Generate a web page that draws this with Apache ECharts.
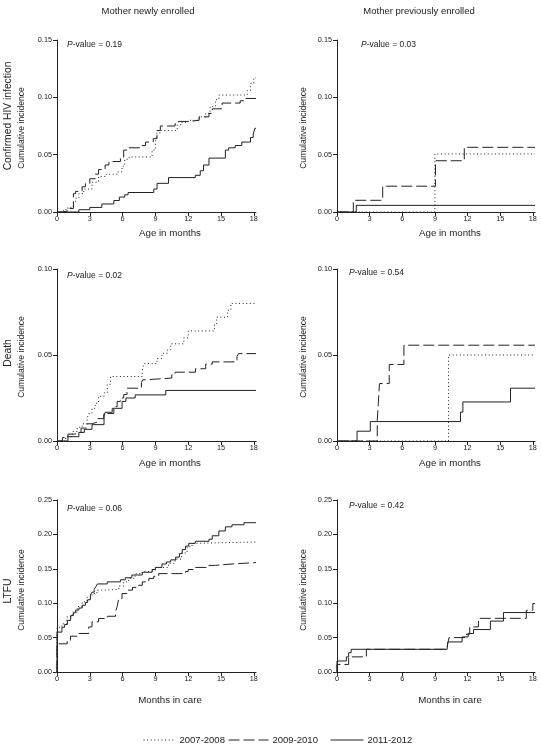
<!DOCTYPE html>
<html><head><meta charset="utf-8">
<script src="https://cdn.jsdelivr.net/npm/echarts@6/dist/echarts.min.js"></script>
<style>html,body{margin:0;padding:0;background:#fff}#c{width:541px;height:750px}</style>
</head><body><div id="c"></div>
<script>
// ---------- DATA ----------
const cohorts = ['2007-2008', '2009-2010', '2011-2012'];
const columnTitles = ['Mother newly enrolled', 'Mother previously enrolled'];
const rowTitles = ['Confirmed HIV infection', 'Death', 'LTFU'];
const xAxisNames = ['Age in months', 'Age in months', 'Months in care'];
const yAxisName = 'Cumulative incidence';
const xTicks = [0, 3, 6, 9, 12, 15, 18];
const yMaxByRow = [0.15, 0.10, 0.25];
const pValues = ['0.19', '0.03', '0.02', '0.54', '0.06', '0.42'];

// [time (months), cumulative incidence]
const hivNew0708 = [[0,0],[0.6,0.002],[1.0,0.004],[1.5,0.008],[1.7,0.012],[2.0,0.016],[2.45,0.020],[3.2,0.026],[3.8,0.031],[4.5,0.033],[5.5,0.035],[5.95,0.040],[6.2,0.046],[6.6,0.048],[8.7,0.054],[9.0,0.061],[9.15,0.069],[9.5,0.071],[11.0,0.076],[11.4,0.078],[12.0,0.080],[13.0,0.083],[13.6,0.086],[14.0,0.092],[14.5,0.098],[14.8,0.102],[17.4,0.106],[17.7,0.112],[18.0,0.117],[18.2,0.117]];
const hivNew0910 = [[0,0],[0.5,0.001],[1.0,0.003],[1.5,0.016],[1.7,0.018],[2.3,0.022],[2.6,0.025],[3.0,0.029],[3.5,0.033],[3.8,0.037],[4.4,0.041],[4.75,0.044],[5.8,0.048],[6.1,0.054],[6.4,0.056],[7.8,0.058],[8.1,0.061],[8.8,0.064],[9.15,0.071],[9.45,0.075],[10.8,0.077],[11.1,0.079],[12.05,0.080],[13.0,0.083],[13.9,0.086],[14.2,0.090],[15.1,0.095],[16.75,0.097],[17.1,0.099],[18.2,0.099]];
const hivNew1112 = [[0,0],[2.0,0.002],[3.0,0.004],[4.1,0.007],[5.2,0.010],[5.7,0.013],[6.2,0.015],[6.5,0.017],[8.85,0.020],[9.15,0.025],[10.2,0.030],[12.65,0.032],[13.1,0.036],[13.4,0.041],[13.9,0.047],[15.4,0.054],[15.7,0.056],[16.3,0.058],[16.9,0.061],[17.7,0.065],[17.95,0.068],[18.1,0.073],[18.2,0.073]];

const hivPrev0708 = [[0,0],[9.0,0.0506],[18.2,0.0506]];
const hivPrev0910 = [[0,0],[1.5,0.0102],[4.2,0.0225],[9.05,0.0447],[11.7,0.0564],[18.2,0.0564]];
const hivPrev1112 = [[0,0],[1.77,0.0058],[18.2,0.0058]];

const deathNew0708 = [[0,0],[0.8,0.0025],[1.4,0.0055],[1.85,0.008],[2.3,0.010],[2.75,0.013],[2.9,0.016],[3.2,0.019],[3.5,0.022],[3.8,0.026],[4.3,0.028],[4.6,0.033],[4.9,0.0375],[7.8,0.041],[7.95,0.045],[9.15,0.048],[9.6,0.051],[10.1,0.053],[10.4,0.0565],[11.6,0.060],[12.0,0.064],[14.4,0.068],[14.6,0.072],[15.6,0.076],[15.9,0.080],[18.2,0.080]];
const deathNew0910 = [[0,0],[0.5,0.002],[1.0,0.004],[1.6,0.005],[2.2,0.0075],[2.75,0.010],[3.2,0.011],[3.67,0.013],[4.28,0.016],[5.2,0.020],[5.5,0.023],[5.8,0.025],[6.1,0.027],[6.4,0.0307],[7.72,0.034],[7.84,0.0356],[8.1,0.0366],[10.5,0.0385],[10.8,0.040],[12.66,0.042],[13.6,0.0447],[14.2,0.046],[16.46,0.049],[16.6,0.0508],[18.2,0.0508]];
const deathNew1112 = [[0,0],[1.0,0.0025],[2.0,0.005],[2.5,0.0068],[3.2,0.0095],[4.3,0.0145],[4.4,0.0167],[5.05,0.019],[5.95,0.023],[6.3,0.025],[7.15,0.0268],[9.95,0.0294],[18.2,0.0294]];

const deathPrev0708 = [[0,0],[10.25,0.050],[18.2,0.050]];
const deathPrev0910 = [[0,0],[3.7,0.012],[3.8,0.022],[3.9,0.0334],[4.8,0.0445],[6.15,0.0557],[18.2,0.0557]];
const deathPrev1112 = [[0,0],[1.84,0.0057],[3.06,0.0113],[11.35,0.0168],[11.57,0.0227],[15.95,0.0307],[18.2,0.0307]];

const ltfuNew0708 = [[0,0],[0,0.065],[0.45,0.070],[0.9,0.080],[1.4,0.087],[1.85,0.095],[2.3,0.102],[2.75,0.109],[3.2,0.114],[3.65,0.119],[4.1,0.120],[5.65,0.125],[6.1,0.131],[6.55,0.136],[7.15,0.143],[7.8,0.146],[8.55,0.148],[9.0,0.152],[10.2,0.158],[10.8,0.164],[11.4,0.173],[11.9,0.182],[12.35,0.187],[12.65,0.189],[18.2,0.189]];
const ltfuNew0910 = [[0,0],[0,0.041],[0.93,0.045],[1.23,0.052],[2.0,0.056],[2.9,0.0655],[3.2,0.073],[3.8,0.0777],[4.6,0.081],[5.35,0.087],[5.5,0.095],[5.65,0.107],[5.95,0.114],[6.4,0.119],[6.9,0.123],[7.3,0.126],[7.8,0.131],[8.4,0.136],[8.85,0.139],[9.3,0.143],[11.75,0.146],[12.0,0.149],[12.65,0.152],[13.9,0.155],[14.5,0.157],[16.0,0.159],[18.2,0.159]];
const ltfuNew1112 = [[0,0],[0,0.058],[0.45,0.065],[0.7,0.069],[0.95,0.075],[1.25,0.082],[1.5,0.086],[1.7,0.090],[2.0,0.093],[2.3,0.097],[2.6,0.101],[2.8,0.105],[3.05,0.112],[3.2,0.116],[3.4,0.120],[3.55,0.124],[3.7,0.128],[4.6,0.131],[5.8,0.134],[6.25,0.137],[6.85,0.141],[7.8,0.145],[8.7,0.149],[9.0,0.152],[9.6,0.157],[10.0,0.160],[10.4,0.163],[10.85,0.167],[11.2,0.172],[11.45,0.178],[11.75,0.183],[12.05,0.187],[12.65,0.190],[13.9,0.193],[14.2,0.198],[14.8,0.205],[15.4,0.211],[16.0,0.214],[17.1,0.217],[18.2,0.217]];

// no visible 2007-2008 curve in this panel
const ltfuPrev0708 = null;
const ltfuPrev0910 = [[0,0],[0,0.011],[1.07,0.022],[2.7,0.033],[10.15,0.040],[10.3,0.050],[11.9,0.055],[12.2,0.0655],[13.0,0.078],[17.4,0.0898],[18.0,0.0995],[18.2,0.0995]];
const ltfuPrev1112 = [[0,0],[0,0.016],[0.86,0.022],[1.07,0.028],[1.3,0.033],[10.13,0.036],[10.2,0.0437],[11.5,0.051],[12.06,0.056],[12.55,0.0617],[14.1,0.074],[15.3,0.0864],[18.2,0.0864]];

const panelSeries = [
  [hivNew0708, hivNew0910, hivNew1112],
  [hivPrev0708, hivPrev0910, hivPrev1112],
  [deathNew0708, deathNew0910, deathNew1112],
  [deathPrev0708, deathPrev0910, deathPrev1112],
  [ltfuNew0708, ltfuNew0910, ltfuNew1112],
  [ltfuPrev0708, ltfuPrev0910, ltfuPrev1112]
];

// ---------- LAYOUT / STYLE ----------
const FONT = '"Liberation Sans", Arial, Helvetica, sans-serif';
const INK = '#222';
const colLeft = [57, 337], colWidth = [199, 198];
const rowTop = [40, 269, 500], rowH = 172;
const lineTypes = [[1, 2.6], [11, 4], 'solid'];

const grids = [], xAxes = [], yAxes = [], series = [];
for (let p = 0; p < 6; p++) {
  const r = Math.floor(p / 2), c = p % 2;
  grids.push({left: colLeft[c], top: rowTop[r], width: colWidth[c], height: rowH, containLabel: false});
  xAxes.push({
    type: 'value', gridIndex: p, min: 0, max: 18.2,
    axisLine: {show: true, onZero: false, lineStyle: {color: INK, width: 1}},
    axisTick: {show: true, length: 4, customValues: xTicks, lineStyle: {color: INK}},
    axisLabel: {customValues: xTicks, margin: 3, fontSize: 7.3, color: INK, fontFamily: FONT},
    splitLine: {show: false}
  });
  yAxes.push({
    type: 'value', gridIndex: p, min: 0, max: yMaxByRow[r], interval: 0.05,
    axisLine: {show: true, lineStyle: {color: INK, width: 1}},
    axisTick: {show: true, length: 4, lineStyle: {color: INK}},
    axisLabel: {margin: 5, fontSize: 7.3, color: INK, fontFamily: FONT, formatter: v => v.toFixed(2)},
    splitLine: {show: false}
  });
  panelSeries[p].forEach((d, k) => {
    if (!d) return;
    series.push({
      type: 'line', name: cohorts[k], xAxisIndex: p, yAxisIndex: p, data: d, step: 'end',
      symbol: 'none', silent: true, clip: false,
      lineStyle: {color: INK, width: 1, type: lineTypes[k]},
      itemStyle: {color: INK}
    });
  });
}

const graphics = [];
function txt(x, y, text, size, opts = {}) {
  graphics.push(Object.assign({
    type: 'text', x: x, y: y, silent: true,
    style: Object.assign({text: text, fontSize: size, fontFamily: FONT, fill: INK,
      textAlign: 'center', textVerticalAlign: 'middle'}, opts.style || {})
  }, opts.el || {}));
}
txt(148, 11, columnTitles[0], 9.5);
txt(419, 11, columnTitles[1], 9.5);
const rowLabelY = [116, 353, 591];
const cumY = [128, 357, 590];
const axisNameY = [233.5, 463.5, 700];
const pPos = [[67, 45], [361, 45], [67, 276], [349, 273], [67, 509], [349, 506]];
for (let r = 0; r < 3; r++) {
  txt(8.5, rowLabelY[r], rowTitles[r], 10.3, {el: {rotation: Math.PI / 2}});
  txt(22, cumY[r], yAxisName, 8.6, {el: {rotation: Math.PI / 2}});
  txt(303.5, cumY[r], yAxisName, 8.6, {el: {rotation: Math.PI / 2}});
  txt(170, axisNameY[r], xAxisNames[r], 9.7);
  txt(450, axisNameY[r], xAxisNames[r], 9.7);
}
for (let p = 0; p < 6; p++) {
  txt(pPos[p][0], pPos[p][1], '{i|P}-value = ' + pValues[p], 8.5, {style: {
    textAlign: 'left',
    rich: {i: {fontStyle: 'italic', fontSize: 8.5, fontFamily: FONT, fill: INK}}
  }});
}

const legendLeft = [143, 228, 330], legendW = [32, 40, 33];
const legends = cohorts.map((name, k) => ({
  data: [name], left: legendLeft[k], top: 735, itemWidth: legendW[k], itemHeight: 10,
  padding: 0, selectedMode: false,
  itemStyle: {opacity: 0},
  lineStyle: {width: 1, color: INK, type: lineTypes[k]},
  textStyle: {fontSize: 9.5, color: INK, fontFamily: FONT, padding: [0, 0, 0, -1]}
}));

const chart = echarts.init(document.getElementById('c'), null, {renderer: 'canvas'});
chart.setOption({
  animation: false,
  backgroundColor: '#fff',
  textStyle: {fontFamily: FONT},
  grid: grids, xAxis: xAxes, yAxis: yAxes, series: series,
  legend: legends,
  graphic: graphics
});
</script></body></html>
